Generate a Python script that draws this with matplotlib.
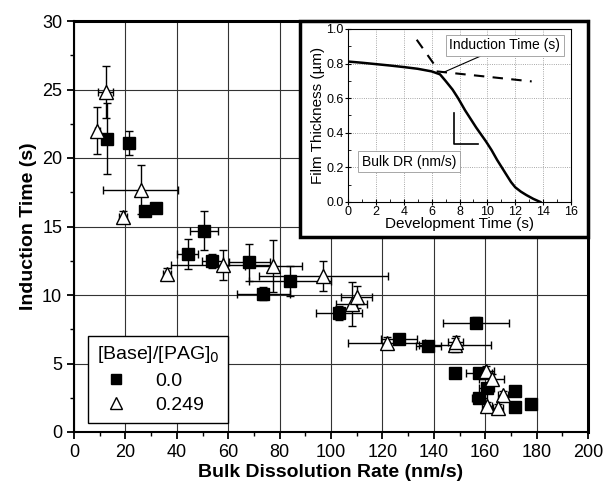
import matplotlib.pyplot as plt
import numpy as np
from matplotlib.patches import Rectangle
from matplotlib.ticker import MultipleLocator

plt.rcParams['font.family'] = ['Liberation Sans', 'DejaVu Sans']

# [Base]/[PAG]0 = 0.0  (filled squares)
sq_x = [12.7, 21.5, 27.6, 31.9, 44.2, 50.6, 53.8, 68.2, 73.7, 84.0, 103.2,
        126.6, 137.9, 148.2, 156.4, 157.7, 157.7, 160.6, 171.6, 171.6, 177.8]
sq_y = [21.4, 21.1, 16.1, 16.35, 13.0, 14.7, 12.46, 12.4, 10.1, 11.0, 8.69,
        6.8, 6.26, 4.3, 7.96, 4.3, 2.5, 3.2, 3.0, 1.83, 2.02]
sq_xerr = [0.5, 1, 1, 0.5, 4, 5.5, 4, 8, 10.4, 16, 9,
           7, 5, 2, 13, 5, 3, 3, 1, 1, 1]
sq_yerr = [2.6, 0.9, 0.3, 0.3, 1.1, 1.4, 0.5, 1.35, 0.5, 1.1, 0.5,
           0.3, 0.3, 0.3, 0.4, 0.3, 0.3, 0.3, 0.3, 0.3, 0.3]

# [Base]/[PAG]0 = 0.249  (open triangles)
tr_x = [9.1, 12.3, 19.2, 25.9, 36.1, 57.9, 77.6, 97.0, 108.0, 110.0,
        121.7, 148.2, 148.5, 160.3, 162.5, 166.8, 160.8, 165.1]
tr_y = [22.0, 24.8, 15.7, 17.7, 11.56, 12.17, 12.1, 11.4, 9.37, 9.85,
        6.5, 6.33, 6.6, 4.45, 3.9, 2.68, 1.88, 1.78]
tr_xerr = [1, 3, 1.5, 14.6, 1.5, 20, 11, 25, 6, 6,
           15, 14, 3, 3, 5, 2, 2, 2]
tr_yerr = [1.7, 1.9, 0.4, 1.8, 0.4, 1.1, 1.9, 1.1, 1.6, 0.8,
           0.4, 0.5, 0.4, 0.4, 0.3, 0.3, 0.3, 0.3]

# inset: film thickness vs development time
curve_t = [0, 1, 2, 3, 4, 5, 6, 6.6, 7.0, 7.5, 7.9, 8.4, 8.8, 9.2, 9.9, 10.3,
           10.7, 11.3, 11.7, 12.0, 12.4, 12.8, 13.3, 13.8]
curve_h = [0.812, 0.805, 0.797, 0.789, 0.78, 0.77, 0.755, 0.738, 0.70, 0.65,
           0.60, 0.53, 0.48, 0.43, 0.35, 0.30, 0.243, 0.166, 0.115, 0.085,
           0.06, 0.04, 0.018, 0.0]
tangent_t = [4.93, 6.3]
tangent_h = [0.938, 0.782]
plateau_t = [6.36, 13.18]
plateau_h = [0.755, 0.697]

fig = plt.figure(figsize=(6.08, 4.96), dpi=100)
ax = fig.add_axes([74 / 608, 1 - 432 / 496, 514 / 608, 411 / 496])

ax.set_xlim(0, 200)
ax.set_ylim(0, 30)
ax.xaxis.set_major_locator(MultipleLocator(20))
ax.xaxis.set_minor_locator(MultipleLocator(10))
ax.yaxis.set_major_locator(MultipleLocator(5))
ax.yaxis.set_minor_locator(MultipleLocator(2.5))
ax.grid(True, which='major', color='0.2', lw=0.8)
ax.set_axisbelow(True)
ax.tick_params(which='major', direction='out', length=5, width=1.3, labelsize=13)
ax.tick_params(which='minor', direction='out', length=3, width=1.0)
for s in ['left', 'bottom']:
    ax.spines[s].set_linewidth(1.5)
for s in ['top', 'right']:
    ax.spines[s].set_linewidth(2.2)

ax.errorbar(sq_x, sq_y, xerr=sq_xerr, yerr=sq_yerr, fmt='s', ms=8, mfc='black',
            mec='black', ecolor='black', elinewidth=1.0, capsize=3, capthick=1.0,
            label='0.0', zorder=3)
ax.errorbar(tr_x, tr_y, xerr=tr_xerr, yerr=tr_yerr, fmt='^', ms=10, mfc='white',
            mec='black', mew=1.0, ecolor='black', elinewidth=1.0, capsize=3,
            capthick=1.0, label='0.249', zorder=4)

ax.set_xlabel('Bulk Dissolution Rate (nm/s)', fontsize=14, fontweight='bold', labelpad=2)
ax.set_ylabel('Induction Time (s)', fontsize=14, fontweight='bold', labelpad=4)

handles, labels = ax.get_legend_handles_labels()
handles = [h[0] for h in handles]
leg = ax.legend(handles, labels, title='[Base]/[PAG]$_0$', loc='lower left',
                bbox_to_anchor=(0.027, 0.022), borderaxespad=0, fontsize=14,
                title_fontsize=14, frameon=True, fancybox=False, edgecolor='black',
                framealpha=1, handletextpad=1.0, borderpad=0.45, labelspacing=0.35,
                markerscale=0.9)
leg.get_frame().set_linewidth(1.0)
leg._legend_box.align = 'left'

# inset frame
ax.add_patch(Rectangle((87.9, 14.2), 112.1, 15.8, transform=ax.transData,
                       facecolor='white', edgecolor='black', lw=2.5, zorder=5,
                       clip_on=False))

ins = fig.add_axes([348 / 608, 1 - 202 / 496, 223 / 608, 173 / 496])
ins.set_zorder(10)
ins.set_xlim(0, 16)
ins.set_ylim(0, 1.0)
ins.xaxis.set_major_locator(MultipleLocator(2))
ins.xaxis.set_minor_locator(MultipleLocator(1))
ins.yaxis.set_major_locator(MultipleLocator(0.2))
ins.yaxis.set_minor_locator(MultipleLocator(0.1))
ins.grid(True, which='major', color='0.55', lw=0.6, ls=':')
ins.tick_params(which='major', direction='inout', length=4, width=0.8, labelsize=9, pad=1)
ins.tick_params(which='minor', direction='in', length=2, width=0.6)
for s in ins.spines.values():
    s.set_linewidth(0.8)
ins.set_xlabel('Development Time (s)', fontsize=11, labelpad=-1)
ins.set_ylabel('Film Thickness (\u00b5m)', fontsize=11, labelpad=1)

ins.plot(curve_t, curve_h, color='black', lw=1.8)
ins.plot(tangent_t, tangent_h, color='black', lw=1.5, ls=(0, (5, 4)))
ins.plot(plateau_t, plateau_h, color='black', lw=1.5, ls=(0, (5, 4)))
ins.plot([7.6, 7.6, 9.33], [0.515, 0.336, 0.336], color='black', lw=1.2)

ins.annotate('Induction Time (s)', xy=(6.84, 0.749), xytext=(11.25, 0.905),
             ha='center', va='center', fontsize=10,
             bbox=dict(boxstyle='square,pad=0.25', fc='white', ec='0.6', lw=0.6),
             arrowprops=dict(arrowstyle='-', color='black', lw=0.8,
                             shrinkA=0, shrinkB=0))
ins.text(4.38, 0.232, 'Bulk DR (nm/s)', ha='center', va='center', fontsize=10,
         bbox=dict(boxstyle='square,pad=0.25', fc='white', ec='0.6', lw=0.6))

fig.savefig('out.png', dpi=100)
